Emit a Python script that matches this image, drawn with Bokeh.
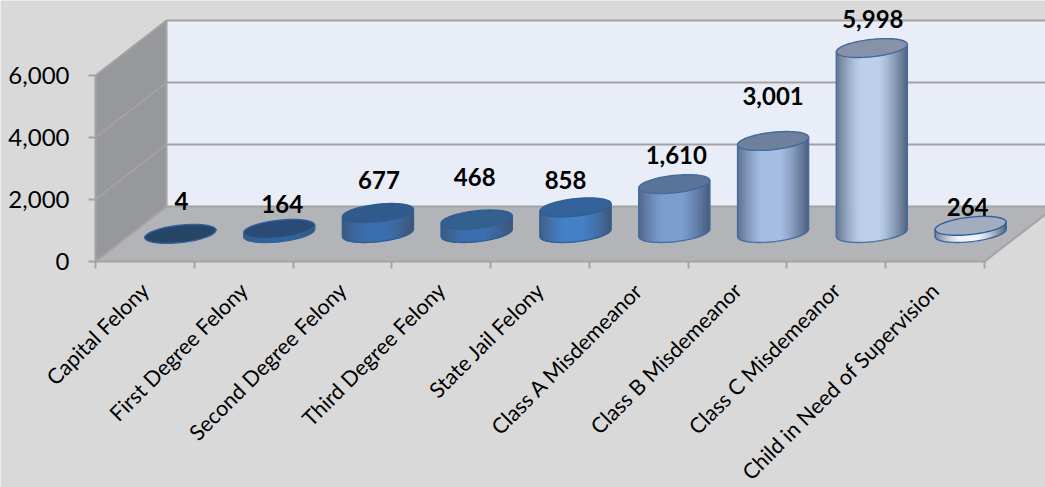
import math
from bokeh.plotting import figure
from bokeh.models import FixedTicker, NumeralTickFormatter, ColumnDataSource
from bokeh.core.properties import value
from bokeh.embed import file_html
from bokeh.resources import INLINE

categories = ["Capital Felony", "First Degree Felony", "Second Degree Felony",
              "Third Degree Felony", "State Jail Felony", "Class A Misdemeanor",
              "Class B Misdemeanor", "Class C Misdemeanor", "Child in Need of Supervision"]
counts = [4, 164, 677, 468, 858, 1610, 3001, 5998, 264]
y_ticks = [0, 2000, 4000, 6000]

# styling per cylinder
top_colors = ["#264567", "#2a4b75", "#30598c", "#33608f", "#34639c", "#5a7399", "#6f809c", "#8792a8", "#a3adc0"]
mid_colors = ["#2f5f98", "#32659f", "#3b6fae", "#3b6fae", "#4580c6", "#7c9dd0", "#a6bde2", "#bdd0ea", "#f0f4fb"]
rim_colors = ["#30619c", "#30619c", "#2f5c92", "#2f5c92", "#2f5c92", "#416b9f", "#416b9f", "#416b9f", "#2f5f9e"]
label_dx = [1, 3, 1, -2, -10, 2, 0, 1, -3]
label_dy = [33, 25, 33, 42, 27, 29, 45, 29, 19]

PAGE_W, PAGE_H = 1045, 487
LEFT, BASE = 95, 261
CAT_PX, Y_PX = 98.78, 0.031
DEPTH_X, DEPTH_Y = 71, 55
RX, TILT, RY = 35.5, 3.7, 8.7
BASE_LIFT = 1

def dx(px):
    return px / CAT_PX
def dy(px):
    return px / Y_PX

BG = "#d9d9d9"
p = figure(width=PAGE_W, height=PAGE_H, output_backend="svg", toolbar_location=None,
           x_range=(-LEFT / CAT_PX, (PAGE_W - LEFT) / CAT_PX),
           y_range=(-(PAGE_H - BASE) / Y_PX, BASE / Y_PX),
           min_border=0, background_fill_color=BG,
           border_fill_color=BG, outline_line_color=None)
p.grid.visible = False

ymax = max(y_ticks)
nc = len(categories)
GRID = "#a3a3a3"

# back wall, floor, left wall
p.patch([dx(DEPTH_X), dx(DEPTH_X) + 12, dx(DEPTH_X) + 12, dx(DEPTH_X)],
        [dy(DEPTH_Y), dy(DEPTH_Y), dy(DEPTH_Y) + ymax, dy(DEPTH_Y) + ymax],
        fill_color="#e9edf7", line_color=None)
p.patch([0, nc, nc + dx(DEPTH_X), dx(DEPTH_X)], [0, 0, dy(DEPTH_Y), dy(DEPTH_Y)],
        fill_color="#b2b4b8", line_color=None)
p.patch([0, dx(DEPTH_X), dx(DEPTH_X), 0], [0, dy(DEPTH_Y), dy(DEPTH_Y) + ymax, ymax],
        fill_color="#96989b", line_color=None)
for t in y_ticks:
    p.line([0, dx(DEPTH_X), nc + dx(DEPTH_X)], [t, t + dy(DEPTH_Y), t + dy(DEPTH_Y)],
           line_color=GRID, line_width=2)
p.line([0, 0], [0, ymax], line_color=GRID, line_width=2)
p.line([dx(DEPTH_X), dx(DEPTH_X)], [dy(DEPTH_Y), dy(DEPTH_Y) + ymax], line_color=GRID, line_width=2)
p.line([nc, nc + dx(DEPTH_X)], [0, dy(DEPTH_Y)], line_color=GRID, line_width=2)

def mix(a, b, f):
    ca = [int(a[i:i + 2], 16) for i in (1, 3, 5)]
    cb = [int(b[i:i + 2], 16) for i in (1, 3, 5)]
    return "#%02x%02x%02x" % tuple(round(x + (y - x) * f) for x, y in zip(ca, cb))

def shade(mid, u):
    # u in -1..1 across the cylinder: dark at the sides, light near the middle
    f = max(0.0, (abs(u + 0.05) - 0.25) / 0.75) ** 1.3
    return mix(mid, "#40536f", 0.8 * f)

STRIP = 1.5
for i, v in enumerate(counts):
    cx = i + 0.5 + dx(DEPTH_X / 2)
    y1 = dy(DEPTH_Y / 2) + v
    y0 = dy(DEPTH_Y / 2 + BASE_LIFT)
    xs, ys, cols = [], [], []
    n = int(round(2 * RX / STRIP))
    for k in range(n):
        a, b = -RX + k * 2 * RX / n, -RX + (k + 1) * 2 * RX / n
        low = []
        for o in (a, b):
            c = o / RX
            s = math.sqrt(max(0, 1 - c * c))
            low.append(dy(TILT * c) - dy(RY * s))
        xs.append([cx + dx(a), cx + dx(b), cx + dx(b), cx + dx(a)])
        ys.append([y0 + low[0], y0 + low[1], y1 + dy(TILT * b / RX), y1 + dy(TILT * a / RX)])
        cols.append(shade(mid_colors[i], (a + b) / 2 / RX))
    p.patches(xs, ys, fill_color=cols, line_color=cols, line_width=1)
    ts = [2 * math.pi * j / 72 for j in range(73)]
    ex = [cx + dx(RX * math.cos(t)) for t in ts]
    # body outline: sides and lower arc
    half = [math.pi + math.pi * j / 36 for j in range(37)]
    ox = [cx + dx(RX * math.cos(t)) for t in half]
    oy = [y0 + dy(TILT * math.cos(t) + RY * math.sin(t)) for t in half]
    p.line([cx - dx(RX)] + ox + [cx + dx(RX)], [y1 - dy(TILT)] + oy + [y1 + dy(TILT)],
           line_color=rim_colors[i], line_width=1.4, line_alpha=0.9)
    p.patch(ex, [y1 + dy(TILT * math.cos(t) + RY * math.sin(t)) for t in ts],
            fill_color=top_colors[i], line_color=rim_colors[i], line_width=1.4)

# value labels
src = ColumnDataSource(dict(
    x=[i + 0.5 + dx(DEPTH_X / 2 + o) for i, o in enumerate(label_dx)],
    y=[dy(DEPTH_Y / 2 + o) + v for v, o in zip(counts, label_dy)],
    t=[f"{v:,}" for v in counts]))
p.text("x", "y", text="t", source=src, text_font=value("Lato"), text_font_size="24px",
       text_font_style="bold", text_align="center", text_baseline="middle", text_color="#000000")

# axes, pinned to the zero lines of the two ranges
xa, ya = p.xaxis[0], p.yaxis[0]
xa.fixed_location = 0
ya.fixed_location = 0
xa.ticker = FixedTicker(ticks=[i + 0.5 for i in range(nc)], minor_ticks=list(range(nc + 1)))
xa.major_label_overrides = {i + 0.5: c for i, c in enumerate(categories)}
xa.major_label_orientation = math.pi / 4
xa.major_label_text_font = "Lato"
xa.major_label_text_font_size = "21.5px"
xa.major_label_text_color = "#000000"
xa.major_tick_line_color = None
xa.minor_tick_in = 0
xa.minor_tick_out = 7
xa.minor_tick_line_color = GRID
xa.minor_tick_line_width = 2
xa.axis_line_color = GRID
xa.axis_line_width = 2
xa.bounds = (0, nc)
xa.major_label_standoff = 18

ya.ticker = FixedTicker(ticks=y_ticks)
ya.formatter = NumeralTickFormatter(format="0,0")
ya.major_label_text_font = "Lato"
ya.major_label_text_font_size = "24px"
ya.major_label_text_color = "#000000"
ya.major_tick_in = 0
ya.major_tick_out = 7
ya.major_tick_line_color = GRID
ya.major_tick_line_width = 2
ya.minor_tick_line_color = None
ya.axis_line_color = None
ya.major_label_standoff = 19

open("out.html", "w").write(file_html(p, INLINE))
